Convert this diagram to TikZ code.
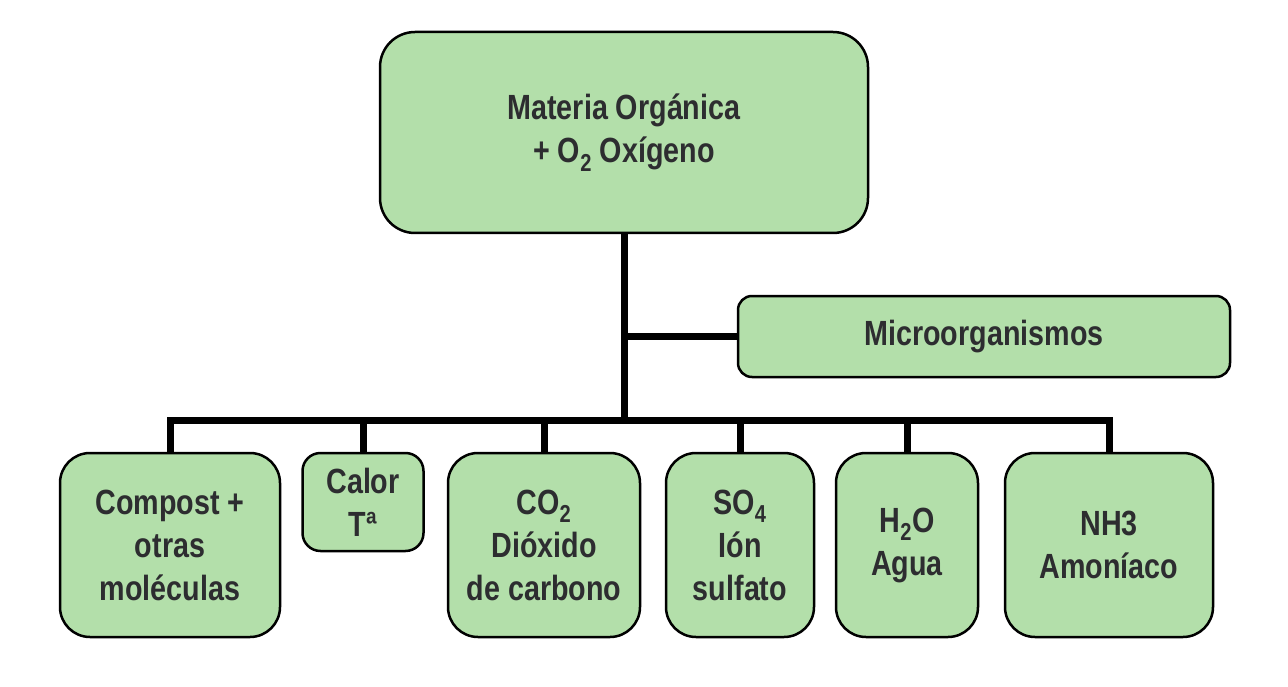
\documentclass[tikz,border=0pt]{standalone}
\usepackage{fontspec}
\setmainfont{Liberation Sans}[FakeStretch=0.82]
\definecolor{verde}{RGB}{179,223,170}
\definecolor{texto}{RGB}{45,45,48}
\tikzset{
    RB/.style ={rectangle,rounded corners=#1,draw,line width=2.5pt,fill=verde,text=texto,
                font=\fontsize{35}{43}\selectfont\bfseries,align=center,inner sep=0pt},
    RB1/.style ={RB=30pt,minimum height=184pt},
    LK/.style ={line width=7pt}}
\begin{document}
\begin{tikzpicture}[x=1pt,y=-1pt]
        \useasboundingbox (0,0) rectangle (1288,687);
        \coordinate (bus) at (624,420);
        \node[RB=35pt,minimum width=488pt,minimum height=201pt] (mo) at (624,132.5) {Materia Orgánica\\+ O\textsubscript{2} Oxígeno};
        \node[RB=14pt,minimum width=492pt,minimum height=81pt] (micro) at (984,336.5) {Microorganismos};
        \node[RB1,minimum width=220pt] (compost) at (170,545) {Compost +\\otras\\moléculas};
        \node[RB=18pt,minimum width=121pt,minimum height=98pt] (calor) at (363,502) {Calor\\Tª};
        \node[RB1,minimum width=192pt] (co2) at (544,545) {CO\textsubscript{2}\\Dióxido\\de carbono};
        \node[RB1,minimum width=148pt] (so4) at (740,545) {SO\textsubscript{4}\\Ión\\sulfato};
        \node[RB1,minimum width=142pt] (h2o) at (907,545) {H\textsubscript{2}O\\Agua};
        \node[RB1,minimum width=208pt] (nh3) at (1109,545) {NH3\\Amoníaco};
        \draw[LK] (mo.south) -- (bus);
        \draw[LK] (mo.south |- micro.west) -- (micro.west);
        \draw[LK] (compost.north) -- (compost.north |- bus) -- (nh3.north |- bus) -- (nh3.north);
        \foreach \n in {calor,co2,so4,h2o}
            \draw[LK] (\n.north) -- (\n.north |- bus);
    \end{tikzpicture}
\end{document}
